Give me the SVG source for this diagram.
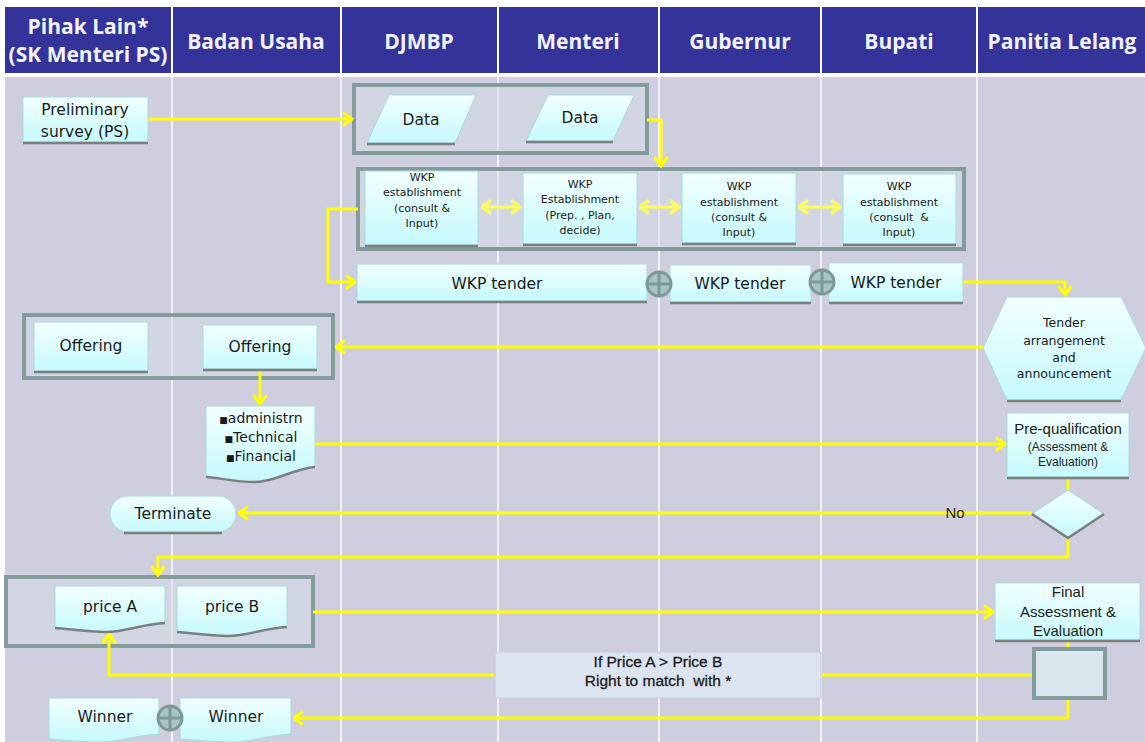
<svg xmlns="http://www.w3.org/2000/svg" width="1145" height="742" viewBox="0 0 1145 742">
  <defs>
    <linearGradient id="cy" x1="0" y1="0" x2="0" y2="1">
      <stop offset="0" stop-color="#F2FFFF"/>
      <stop offset="1" stop-color="#C6FAFC"/>
    </linearGradient>
    <marker id="arr" viewBox="0 0 12 16" refX="10.5" refY="8" markerWidth="12" markerHeight="16" markerUnits="userSpaceOnUse" orient="auto">
      <path d="M1.5,1.5 L10.5,8 L1.5,14.5" fill="none" stroke="#FFFF00" stroke-width="3"/>
    </marker>
    <marker id="arr2" viewBox="0 0 12 16" refX="10.5" refY="8" markerWidth="12" markerHeight="16" markerUnits="userSpaceOnUse" orient="auto-start-reverse">
      <path d="M1.5,1.5 L10.5,8 L1.5,14.5" fill="none" stroke="#FAFA66" stroke-width="3.5"/>
    </marker>
    <g id="plus">
      <circle r="12" fill="#A7C5C5" stroke="#7F9999" stroke-width="3"/>
      <path d="M-12,0 H12 M0,-12 V12" stroke="#7F9999" stroke-width="3"/>
    </g>
  </defs>
  <style>
    .hd{fill:#333399}
    .ht{font-family:"Open Sans","DejaVu Sans",sans-serif;font-weight:700;font-size:21px;fill:#F2F2FA;text-anchor:middle}
    .lane{stroke:#FFFFFF;stroke-width:1.5}
    .node{fill:url(#cy);stroke:#A6DCE0;stroke-width:1}
    .sh{fill:none;stroke:#7E7E7E;stroke-width:2.5}
    .frame{fill:#D6DCE6;fill-opacity:.55;stroke:#849C9C;stroke-width:4}
    .conn{fill:none;stroke:#FFFF00;stroke-width:3}
    .dbl{fill:none;stroke:#FAFA66;stroke-width:3.5}
    .t{font-family:"DejaVu Sans",sans-serif;font-size:15.5px;fill:#1A1A1A;text-anchor:middle}
    .s{font-family:"DejaVu Sans",sans-serif;font-size:11px;fill:#1A1A1A;text-anchor:middle}
    .n{font-family:"Liberation Sans",Arial,sans-serif;font-size:15px;fill:#1A1A1A;text-anchor:middle}
    .b{font-size:9px}
  </style>

  <!-- page, header and swimlanes -->
  <rect width="1145" height="742" fill="#FFFFFF"/>
  <g id="header">
    <rect class="hd" x="5" y="7" width="1140" height="66"/>
    <path d="M172,7 V73 M341,7 V73 M498,7 V73 M659,7 V73 M821,7 V73 M977,7 V73" stroke="#FFFFFF" stroke-width="2"/>
    <text class="ht" x="88" y="34">Pihak Lain*</text>
    <text class="ht" x="88" y="62">(SK Menteri PS)</text>
    <text class="ht" x="256" y="49">Badan Usaha</text>
    <text class="ht" x="419" y="49">DJMBP</text>
    <text class="ht" x="578" y="49">Menteri</text>
    <text class="ht" x="740" y="49">Gubernur</text>
    <text class="ht" x="899" y="49">Bupati</text>
    <text class="ht" x="1062" y="49">Panitia Lelang</text>
  </g>
  <g id="lanes">
    <rect x="5" y="77" width="1140" height="665" fill="#CFCEDE"/>
    <path class="lane" d="M172,77 V742 M341,77 V742 M498,77 V742 M659,77 V742 M821,77 V742 M977,77 V742"/>
  </g>

  <!-- group frames -->
  <g id="frames">
    <rect class="frame" x="354" y="85" width="293" height="68"/>
    <rect class="frame" x="358" y="169" width="606" height="80"/>
    <rect class="frame" x="24" y="315" width="309" height="63"/>
    <rect class="frame" x="6" y="577" width="307" height="69"/>
  </g>

  <!-- connectors -->
  <g id="connectors">
    <path class="conn" d="M148,119 H352" marker-end="url(#arr)"/>
    <path class="conn" d="M647,120 H661 V166" marker-end="url(#arr)"/>
    <path class="dbl" d="M482,207 H520" marker-start="url(#arr2)" marker-end="url(#arr2)"/>
    <path class="dbl" d="M640,207 H679" marker-start="url(#arr2)" marker-end="url(#arr2)"/>
    <path class="dbl" d="M799,207 H840" marker-start="url(#arr2)" marker-end="url(#arr2)"/>
    <path class="conn" d="M358,209 H328 V282 H355" marker-end="url(#arr)"/>
    <path class="conn" d="M963,282 H1065 V295" marker-end="url(#arr)"/>
    <path class="conn" d="M983,347 H336" marker-end="url(#arr)"/>
    <path class="conn" d="M260,370 V404" marker-end="url(#arr)"/>
    <path class="conn" d="M315,444 H1005" marker-end="url(#arr)"/>
    <path class="conn" d="M1068,478 V490"/>
    <path class="conn" d="M1032,513 H239" marker-end="url(#arr)"/>
    <path class="conn" d="M1068,538 V557 H158 V575" marker-end="url(#arr)"/>
    <path class="conn" d="M313,612 H993" marker-end="url(#arr)"/>
    <path class="conn" d="M1068,641 V649"/>
    <path class="conn" d="M1034,675 H109 V634" marker-end="url(#arr)"/>
    <path class="conn" d="M1068,698 V718 H294" marker-end="url(#arr)"/>
    <text class="n" x="955" y="518">No</text>
  </g>

  <!-- nodes -->
  <g id="ps">
    <rect class="node" x="23" y="97" width="125" height="45"/>
    <path class="sh" d="M23,143 H148"/>
    <text class="t" x="85" y="115">Preliminary</text>
    <text class="t" x="85" y="137">survey (PS)</text>
  </g>
  <g id="data1">
    <polygon class="node" points="389,95 476,95 455,143 367,143"/>
    <path class="sh" d="M367,144 H455"/>
    <text class="t" x="421" y="125">Data</text>
  </g>
  <g id="data2">
    <polygon class="node" points="548,95 634,95 613,141 526,141"/>
    <path class="sh" d="M526,142 H613"/>
    <text class="t" x="580" y="123">Data</text>
  </g>
  <g id="wkp1">
    <rect class="node" x="365" y="171" width="113" height="74"/>
    <path class="sh" d="M365,246 H478"/>
    <text class="s" x="422" y="181">WKP</text>
    <text class="s" x="422" y="196">establishment</text>
    <text class="s" x="422" y="212">(consult &amp;</text>
    <text class="s" x="422" y="227">Input)</text>
  </g>
  <g id="wkp2">
    <rect class="node" x="523" y="173" width="114" height="71"/>
    <path class="sh" d="M523,245 H637"/>
    <text class="s" x="580" y="188">WKP</text>
    <text class="s" x="580" y="203">Establishment</text>
    <text class="s" x="580" y="219">(Prep. , Plan,</text>
    <text class="s" x="580" y="234">decide)</text>
  </g>
  <g id="wkp3">
    <rect class="node" x="682" y="173" width="114" height="70"/>
    <path class="sh" d="M682,244 H796"/>
    <text class="s" x="739" y="190">WKP</text>
    <text class="s" x="739" y="206">establishment</text>
    <text class="s" x="739" y="221">(consult &amp;</text>
    <text class="s" x="739" y="236">Input)</text>
  </g>
  <g id="wkp4">
    <rect class="node" x="843" y="174" width="113" height="70"/>
    <path class="sh" d="M843,245 H956"/>
    <text class="s" x="899" y="190">WKP</text>
    <text class="s" x="899" y="206">establishment</text>
    <text class="s" x="899" y="221" xml:space="preserve">(consult  &amp;</text>
    <text class="s" x="899" y="236">Input)</text>
  </g>
  <g id="tender1">
    <rect class="node" x="357" y="264" width="290" height="37"/>
    <path class="sh" d="M357,302 H647"/>
    <text class="t" x="497" y="289">WKP tender</text>
  </g>
  <g id="tender2">
    <rect class="node" x="670" y="265" width="141" height="37"/>
    <path class="sh" d="M670,303 H811"/>
    <text class="t" x="740" y="289">WKP tender</text>
  </g>
  <g id="tender3">
    <rect class="node" x="829" y="263" width="134" height="39"/>
    <path class="sh" d="M829,303 H963"/>
    <text class="t" x="896" y="288">WKP tender</text>
  </g>
  <g id="announce">
    <polygon class="node" points="983,348 1007,297 1121,297 1146,348 1121,400 1007,400"/>
    <path class="sh" d="M1007,401 H1121"/>
    <text class="s" style="font-size:12.5px" x="1064" y="327">Tender</text>
    <text class="s" style="font-size:12.5px" x="1064" y="345">arrangement</text>
    <text class="s" style="font-size:12.5px" x="1064" y="362">and</text>
    <text class="s" style="font-size:12.5px" x="1064" y="378">announcement</text>
  </g>
  <g id="offer1">
    <rect class="node" x="34" y="322" width="114" height="49"/>
    <path class="sh" d="M34,372 H148"/>
    <text class="t" x="91" y="351">Offering</text>
  </g>
  <g id="offer2">
    <rect class="node" x="203" y="325" width="114" height="44"/>
    <path class="sh" d="M203,370 H317"/>
    <text class="t" x="260" y="352">Offering</text>
  </g>
  <g id="docs">
    <path class="node" d="M206,406 H315 V467 C292,469 276,482 255,482 C235,482 221,478 206,477 Z"/>
    <path class="sh" d="M315,467 C292,469 276,482 255,482 C235,482 221,478 206,477"/>
    <text class="t" style="font-size:14px" x="261" y="423"><tspan class="b">■</tspan>administrn</text>
    <text class="t" style="font-size:14px" x="261" y="442"><tspan class="b">■</tspan>Technical</text>
    <text class="t" style="font-size:14px" x="261" y="461"><tspan class="b">■</tspan>Financial</text>
  </g>
  <g id="prequal">
    <rect class="node" x="1007" y="413" width="122" height="64"/>
    <path class="sh" d="M1007,478 H1129"/>
    <text class="n" x="1068" y="434">Pre-qualification</text>
    <text class="n" style="font-size:12px" x="1068" y="451">(Assessment &amp;</text>
    <text class="n" style="font-size:12px" x="1068" y="466">Evaluation)</text>
  </g>
  <g id="decision">
    <polygon class="node" points="1068,490 1104,514 1068,538 1032,514"/>
    <path class="sh" d="M1032,514 L1068,538 L1104,514"/>
  </g>
  <g id="terminate">
    <rect class="node" x="110" y="496" width="126" height="36" rx="18"/>
    <path class="sh" d="M124,533 H222"/>
    <text class="t" x="173" y="519">Terminate</text>
  </g>
  <g id="priceA">
    <path class="node" d="M55,586 H165 V623 C142,624 126,632 106,632 C86,632 70,629 55,628 Z"/>
    <path class="sh" d="M165,623 C142,624 126,632 106,632 C86,632 70,629 55,628"/>
    <text class="t" x="110" y="612">price A</text>
  </g>
  <g id="priceB">
    <path class="node" d="M177,586 H287 V627 C264,628 248,636 228,636 C208,636 192,633 177,632 Z"/>
    <path class="sh" d="M287,627 C264,628 248,636 228,636 C208,636 192,633 177,632"/>
    <text class="t" x="232" y="612">price B</text>
  </g>
  <g id="final">
    <rect class="node" x="995" y="583" width="145" height="57"/>
    <path class="sh" d="M995,641 H1140"/>
    <text class="n" x="1068" y="597">Final</text>
    <text class="n" x="1068" y="617">Assessment &amp;</text>
    <text class="n" x="1068" y="636">Evaluation</text>
  </g>
  <g id="match">
    <rect x="1034" y="649" width="71" height="49" fill="#DAE6EE" stroke="#849C9C" stroke-width="4"/>
  </g>
  <g id="rule">
    <rect x="495" y="652" width="326" height="46" fill="#DCE4F0" stroke="#C4CCDA" stroke-width="1"/>
    <text class="n" style="font-size:15.5px;stroke:#1A1A1A;stroke-width:0.3" x="658" y="667">If Price A &gt; Price B</text>
    <text class="n" style="font-size:15.5px;stroke:#1A1A1A;stroke-width:0.3" x="658" y="686" xml:space="preserve">Right to match  with *</text>
  </g>
  <g id="winner1">
    <path class="node" d="M49,698 H159 V734 C136,735 120,742 100,742 C80,742 64,740 49,739 Z"/>
    <text class="t" x="105" y="722">Winner</text>
  </g>
  <g id="winner2">
    <path class="node" d="M180,698 H291 V734 C268,735 252,742 232,742 C212,742 196,740 180,739 Z"/>
    <text class="t" x="236" y="722">Winner</text>
  </g>

  <!-- join symbols sit on top of the boxes they connect -->
  <g id="join1"><use href="#plus" x="659" y="284"/></g>
  <g id="join2"><use href="#plus" x="822" y="282"/></g>
  <g id="join3"><use href="#plus" x="170" y="718"/></g>
</svg>
